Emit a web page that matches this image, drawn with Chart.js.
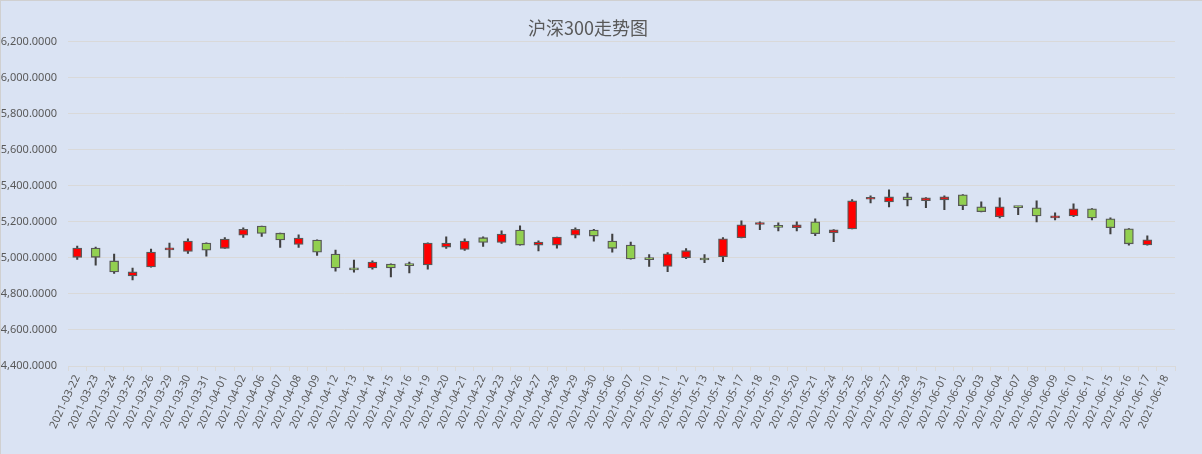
<!DOCTYPE html>
<html lang="zh">
<head>
    <meta charset="UTF-8">
    <title>沪深300走势图</title>
    <script src="https://cdn.jsdelivr.net/npm/chart.js"></script>
    <style>
        html, body { margin: 0; padding: 0; background: #dae3f3; }
        #wrap { position: relative; width: 1202px; height: 454px; box-sizing: border-box; border-left: 1px solid #d0d0d0; border-top: 1px solid #d0d0d0; }
    </style>
</head>
<body>
    <div id="wrap"><canvas id="kChart"></canvas></div>

    <script>
        // trading days
        const dates = [
            '2021-03-22', '2021-03-23', '2021-03-24', '2021-03-25', '2021-03-26', '2021-03-29', '2021-03-30', '2021-03-31',
            '2021-04-01', '2021-04-02', '2021-04-06', '2021-04-07', '2021-04-08', '2021-04-09', '2021-04-12', '2021-04-13',
            '2021-04-14', '2021-04-15', '2021-04-16', '2021-04-19', '2021-04-20', '2021-04-21', '2021-04-22', '2021-04-23',
            '2021-04-26', '2021-04-27', '2021-04-28', '2021-04-29', '2021-04-30', '2021-05-06', '2021-05-07', '2021-05-10',
            '2021-05-11', '2021-05-12', '2021-05-13', '2021-05-14', '2021-05-17', '2021-05-18', '2021-05-19', '2021-05-20',
            '2021-05-21', '2021-05-24', '2021-05-25', '2021-05-26', '2021-05-27', '2021-05-28', '2021-05-31', '2021-06-01',
            '2021-06-02', '2021-06-03', '2021-06-04', '2021-06-07', '2021-06-08', '2021-06-09', '2021-06-10', '2021-06-11',
            '2021-06-15', '2021-06-16', '2021-06-17', '2021-06-18'
        ];

        const opens = [
            5003, 5054, 4983, 4900, 4950, 5044, 5036, 5082, 5053, 5126, 5176, 5137, 5075, 5099, 5021, 4944,
            4944, 4966, 4960, 4961, 5060, 5047, 5112, 5086, 5154, 5071, 5071, 5126, 5154, 5093, 5071, 5001,
            4952, 5001, 4992, 5007, 5112, 5185, 5172, 5167, 5200, 5139, 5161, 5325, 5310, 5338, 5317, 5322,
            5350, 5283, 5228, 5283, 5278, 5222, 5233, 5272, 5217, 5161, 5072, null
        ];
        const highs = [
            5066, 5060, 5021, 4944, 5049, 5082, 5106, 5083, 5112, 5167, 5177, 5138, 5128, 5100, 5043, 4988,
            4983, 4967, 4977, 5083, 5117, 5106, 5117, 5150, 5178, 5095, 5116, 5167, 5159, 5132, 5088, 5018,
            5029, 5051, 5018, 5112, 5206, 5200, 5194, 5200, 5217, 5157, 5323, 5344, 5377, 5360, 5334, 5344,
            5351, 5311, 5333, 5284, 5317, 5250, 5300, 5273, 5222, 5162, 5122, null
        ];
        const lows = [
            4992, 4960, 4914, 4878, 4949, 5003, 5025, 5010, 5052, 5113, 5119, 5058, 5058, 5014, 4926, 4920,
            4937, 4894, 4916, 4937, 5053, 5042, 5064, 5080, 5070, 5038, 5054, 5110, 5093, 5031, 4993, 4952,
            4924, 4996, 4974, 4979, 5111, 5156, 5150, 5150, 5123, 5090, 5160, 5305, 5283, 5288, 5278, 5267,
            5267, 5255, 5222, 5239, 5200, 5211, 5228, 5211, 5133, 5070, 5071, null
        ];
        const closes = [
            5054, 5003, 4922, 4922, 5032, 5047, 5093, 5043, 5104, 5159, 5136, 5099, 5110, 5031, 4944, 4933,
            4977, 4944, 4957, 5082, 5082, 5093, 5086, 5132, 5071, 5088, 5115, 5159, 5121, 5053, 4994, 4990,
            5023, 5040, 4988, 5106, 5183, 5188, 5169, 5183, 5134, 5156, 5316, 5329, 5338, 5321, 5333, 5339,
            5289, 5256, 5283, 5279, 5233, 5233, 5272, 5222, 5167, 5078, 5100, null
        ];

        const yTicks = [4400, 4600, 4800, 5000, 5200, 5400, 5600, 5800, 6000, 6200];

        const bodies = opens.map((o, i) => o === null ? null : [o, closes[i]]);
        const wicks = lows.map((l, i) => l === null ? null : [l, highs[i]]);
        const bodyColors = opens.map((o, i) => closes[i] >= o ? '#ff0000' : '#92d050');

        const ctx = document.getElementById('kChart').getContext('2d');
        new Chart(ctx, {
            type: 'bar',
            data: {
                labels: dates,
                datasets: [
                    {
                        label: 'wick',
                        data: wicks,
                        backgroundColor: '#404040',
                        barThickness: 1.4,
                        grouped: false,
                        order: 2
                    },
                    {
                        label: 'body',
                        data: bodies,
                        backgroundColor: bodyColors,
                        borderColor: '#595959',
                        borderWidth: 1.3,
                        borderSkipped: false,
                        barThickness: 9,
                        minBarLength: 2,
                        grouped: false,
                        order: 1
                    }
                ]
            },
            options: {
                responsive: true,
                maintainAspectRatio: false,
                animation: false,
                layout: { padding: { left: 0, right: 27, top: 0, bottom: 0 } },
                plugins: {
                    legend: { display: false },
                    tooltip: { enabled: false },
                    title: {
                        display: true,
                        text: '沪深300走势图',
                        color: '#595959',
                        font: { family: '"Noto Sans CJK SC", "Noto Sans", sans-serif', size: 18, weight: 'normal' },
                        padding: { top: 16, bottom: 3 }
                    }
                },
                scales: {
                    x: {
                        offset: true,
                        grid: { drawOnChartArea: false, drawTicks: true, tickLength: 5, color: '#d9d9d9', offset: true },
                        border: { color: '#d9d9d9' },
                        ticks: {
                            autoSkip: false,
                            maxRotation: 65,
                            minRotation: 65,
                            padding: 2,
                            color: '#595959',
                            font: { family: '"Noto Sans", sans-serif', size: 11 }
                        },
                        afterFit: (scale) => { scale.height = 88; }
                    },
                    y: {
                        min: yTicks[0],
                        max: yTicks[yTicks.length - 1],
                        afterBuildTicks: (scale) => { scale.ticks = yTicks.map(v => ({ value: v })); },
                        grid: { color: '#d9d9d9', drawTicks: false },
                        border: { display: false },
                        ticks: {
                            padding: 11,
                            color: '#595959',
                            font: { family: '"Noto Sans", sans-serif', size: 11 },
                            callback: (v) => v.toLocaleString('en-US', { minimumFractionDigits: 4, maximumFractionDigits: 4 })
                        },
                        afterFit: (scale) => { scale.width = 67; }
                    }
                }
            }
        });
    </script>
</body>
</html>
